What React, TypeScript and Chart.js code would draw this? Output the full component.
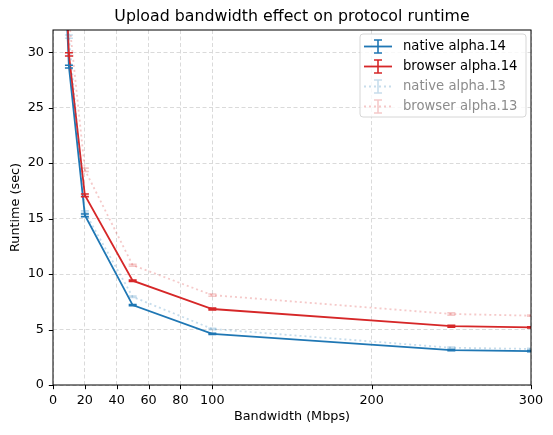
import React, { useEffect, useRef } from "react";
import { Chart, registerables } from "chart.js";

Chart.register(...registerables);

const bandwidth = [5, 10, 20, 50, 100, 250, 300];
const nativeA14 = [45, 28.7, 15.3, 7.2, 4.6, 3.15, 3.05];
const browserA14 = [47, 29.8, 17.1, 9.4, 6.85, 5.3, 5.2];
const nativeA13 = [47, 31.4, 15.6, 7.95, 5.05, 3.36, 3.25];
const browserA13 = [50, 33.0, 19.4, 10.8, 8.1, 6.4, 6.25];
const nativeA14Err = [0.3, 0.12, 0.12, 0.05, 0.05, 0.05, 0.05];
const browserA14Err = [0.3, 0.15, 0.12, 0.06, 0.08, 0.08, 0.05];
const nativeA13Err = [0.3, 0.15, 0.1, 0.06, 0.06, 0.06, 0.05];
const browserA13Err = [0.3, 0.2, 0.15, 0.08, 0.1, 0.1, 0.05];
const seriesLabels = ["native alpha.14", "browser alpha.14", "native alpha.13", "browser alpha.13"];
const xTickValues = [0, 20, 40, 60, 80, 100, 200, 300];
const yTickValues = [0, 5, 10, 15, 20, 25, 30];
const titleText = "Upload bandwidth effect on protocol runtime";
const xAxisTitle = "Bandwidth (Mbps)";
const yAxisTitle = "Runtime (sec)";

const FONT = "'DejaVu Sans', sans-serif";
const BLUE = "#1f77b4";
const RED = "#d62728";
const BLUE_FAINT = "rgba(31,119,180,0.25)";
const RED_FAINT = "rgba(214,39,40,0.25)";
const DOTTED = [2, 3];

const seriesStyle = [
  { color: BLUE, dash: [] as number[], text: "#000" },
  { color: RED, dash: [] as number[], text: "#000" },
  { color: BLUE_FAINT, dash: DOTTED, text: "#8c8c8c" },
  { color: RED_FAINT, dash: DOTTED, text: "#8c8c8c" },
];
const seriesValues = [nativeA14, browserA14, nativeA13, browserA13];
const seriesErrors = [nativeA14Err, browserA14Err, nativeA13Err, browserA13Err];

const decorPlugin = {
  id: "decor",
  afterDatasetsDraw(chart: any) {
    const ctx: CanvasRenderingContext2D = chart.ctx;
    const area = chart.chartArea;
    const xs = chart.scales.x;
    const ys = chart.scales.y;
    ctx.save();
    ctx.beginPath();
    ctx.rect(area.left, area.top, area.right - area.left, area.bottom - area.top);
    ctx.clip();
    seriesValues.forEach((vals, si) => {
      const st = seriesStyle[si];
      ctx.strokeStyle = st.color;
      ctx.lineWidth = 1.6;
      ctx.setLineDash([]);
      vals.forEach((v, i) => {
        const e = seriesErrors[si][i];
        const px = xs.getPixelForValue(bandwidth[i]);
        const y1 = ys.getPixelForValue(v - e);
        const y2 = ys.getPixelForValue(v + e);
        ctx.beginPath();
        ctx.moveTo(px, y1);
        ctx.lineTo(px, y2);
        ctx.moveTo(px - 4, y1);
        ctx.lineTo(px + 4, y1);
        ctx.moveTo(px - 4, y2);
        ctx.lineTo(px + 4, y2);
        ctx.stroke();
      });
    });
    ctx.restore();
  },
  afterDraw(chart: any) {
    const ctx: CanvasRenderingContext2D = chart.ctx;
    const area = chart.chartArea;
    const xs = chart.scales.x;
    const ys = chart.scales.y;
    ctx.save();
    ctx.strokeStyle = "#000";
    ctx.lineWidth = 1;
    ctx.setLineDash([]);
    ctx.strokeRect(area.left, area.top, area.right - area.left, area.bottom - area.top);
    ctx.beginPath();
    yTickValues.forEach((v) => {
      const py = Math.round(ys.getPixelForValue(v)) + 0.5;
      ctx.moveTo(area.left - 4.2, py);
      ctx.lineTo(area.left, py);
    });
    xTickValues.forEach((v) => {
      const px = Math.round(xs.getPixelForValue(v)) + 0.5;
      ctx.moveTo(px, area.bottom);
      ctx.lineTo(px, area.bottom + 4.2);
    });
    ctx.stroke();
    ctx.fillStyle = "#000";
    ctx.textAlign = "center";
    ctx.textBaseline = "middle";
    ctx.font = `15.8px ${FONT}`;
    ctx.fillText(titleText, (area.left + area.right) / 2, 16.5);
    ctx.font = `12.8px ${FONT}`;
    ctx.fillText(xAxisTitle, (area.left + area.right) / 2, 417);
    ctx.save();
    ctx.translate(16, (area.top + area.bottom) / 2);
    ctx.rotate(-Math.PI / 2);
    ctx.fillText(yAxisTitle, 0, 0);
    ctx.restore();
    const bx = 360, by = 34, bw = 166, bh = 83, r = 3;
    ctx.beginPath();
    ctx.moveTo(bx + r, by);
    ctx.arcTo(bx + bw, by, bx + bw, by + bh, r);
    ctx.arcTo(bx + bw, by + bh, bx, by + bh, r);
    ctx.arcTo(bx, by + bh, bx, by, r);
    ctx.arcTo(bx, by, bx + bw, by, r);
    ctx.closePath();
    ctx.fillStyle = "rgba(255,255,255,0.8)";
    ctx.fill();
    ctx.strokeStyle = "#d6d6d6";
    ctx.lineWidth = 1;
    ctx.stroke();
    const rows = [46.5, 66.5, 86.5, 106.5];
    seriesLabels.forEach((label, i) => {
      const st = seriesStyle[i];
      const y = rows[i];
      ctx.strokeStyle = st.color;
      ctx.lineWidth = 1.8;
      ctx.setLineDash(st.dash);
      ctx.beginPath();
      ctx.moveTo(364, y);
      ctx.lineTo(392, y);
      ctx.stroke();
      ctx.setLineDash([]);
      ctx.lineWidth = 1.6;
      ctx.beginPath();
      ctx.moveTo(378, y - 6.5);
      ctx.lineTo(378, y + 6.5);
      ctx.moveTo(374, y - 6.5);
      ctx.lineTo(382, y - 6.5);
      ctx.moveTo(374, y + 6.5);
      ctx.lineTo(382, y + 6.5);
      ctx.stroke();
      ctx.fillStyle = st.text;
      ctx.textAlign = "left";
      ctx.textBaseline = "middle";
      ctx.font = `13.2px ${FONT}`;
      ctx.fillText(label, 403, y);
    });
    ctx.restore();
  },
};

export default function App() {
  const ref = useRef<HTMLCanvasElement | null>(null);
  useEffect(() => {
    document.body.style.margin = "0";
    if (!ref.current) return;
    const datasets = seriesValues.map((vals, si) => ({
      label: seriesLabels[si],
      data: vals.map((v, i) => ({ x: bandwidth[i], y: v })),
      borderColor: seriesStyle[si].color,
      backgroundColor: seriesStyle[si].color,
      borderWidth: 1.8,
      borderDash: seriesStyle[si].dash,
      pointRadius: 0,
      fill: false,
      tension: 0,
      order: 4 - si,
    }));
    const gridOpts = {
      color: "#dadada",
      lineWidth: 1,
      drawTicks: false,
    };
    const borderOpts = { display: false, dash: [4, 2.5] };
    const tickFont = { family: FONT, size: 12.8 };
    const chart = new Chart(ref.current, {
      type: "line",
      data: { datasets },
      plugins: [decorPlugin],
      options: {
        responsive: false,
        animation: false,
        devicePixelRatio: 1,
        layout: { padding: { top: 30, right: 22, left: 0, bottom: 0 } },
        plugins: { legend: { display: false }, tooltip: { enabled: false }, title: { display: false } },
        scales: {
          x: {
            type: "linear",
            min: 0,
            max: 300,
            afterFit: (s: any) => { s.height = 50; },
            afterBuildTicks: (s: any) => { s.ticks = xTickValues.map((v) => ({ value: v })); },
            grid: gridOpts,
            border: borderOpts,
            ticks: { font: tickFont, color: "#000", padding: 7.5, maxRotation: 0, autoSkip: false },
          },
          y: {
            type: "linear",
            min: 0,
            max: 32,
            afterFit: (s: any) => { s.width = 53; },
            afterBuildTicks: (s: any) => { s.ticks = yTickValues.map((v) => ({ value: v })); },
            grid: gridOpts,
            border: borderOpts,
            ticks: { font: tickFont, color: "#000", padding: 9, autoSkip: false },
          },
        },
      } as any,
    });
    return () => chart.destroy();
  }, []);
  return (
    <div style={{ position: "absolute", left: 0, top: 0, width: 553, height: 435, background: "#fff" }}>
      <canvas ref={ref} width={553} height={435} style={{ width: 553, height: 435 }} />
    </div>
  );
}
